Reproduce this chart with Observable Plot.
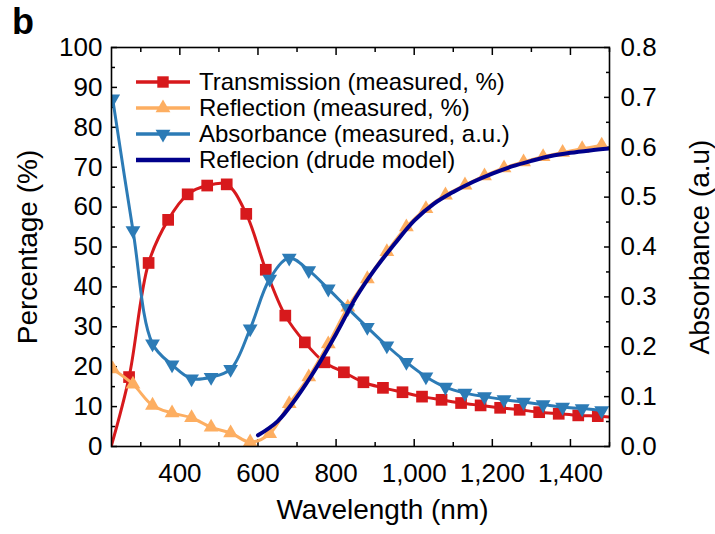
<!DOCTYPE html>
<html><head><meta charset="utf-8">
<script src="https://cdn.jsdelivr.net/npm/d3@7"></script>
<script src="https://cdn.jsdelivr.net/npm/@observablehq/plot@0.6"></script>
<style>
html,body{margin:0;padding:0;background:#fff;}
body{font-family:"Liberation Sans",Arial,Helvetica,sans-serif;color:#000;}
#wrap{position:relative;width:715px;height:534px;overflow:hidden;}
#panel{position:absolute;left:12px;top:4px;font-weight:bold;font-size:36px;line-height:36px;}
.lg{position:absolute;left:134px;height:26px;display:flex;align-items:center;font-size:24px;white-space:nowrap;}
.lg svg{margin-right:7px;}
</style></head><body>
<div id="wrap"><div id="panel">b</div></div>
<script>
// ---- data ----
const transWl  = [225, 270, 320, 370, 420, 470, 520, 570, 620, 670, 720, 770, 820, 870, 920, 970, 1020, 1070, 1120, 1170, 1220, 1270, 1320, 1370, 1420, 1470, 1500];
const transPct = [0.3, 17.4, 46.0, 56.8, 63.2, 65.4, 65.7, 58.3, 44.3, 32.8, 26.1, 21.1, 18.6, 16.1, 14.7, 13.6, 12.5, 11.7, 10.9, 10.3, 9.7, 9.2, 8.6, 8.2, 7.8, 7.6, 7.4];

const reflWl  = [228, 280, 330, 380, 430, 480, 530, 580, 630, 680, 730, 780, 830, 880, 930, 980, 1030, 1080, 1130, 1180, 1230, 1280, 1330, 1380, 1430, 1480];
const reflPct = [19.4, 15.6, 10.3, 8.4, 7.2, 4.8, 3.4, 1.1, 3.2, 10.7, 17.4, 25.7, 34.9, 42.0, 48.8, 55.0, 59.6, 63.0, 65.5, 67.8, 69.8, 71.3, 72.6, 73.7, 74.6, 75.5];

const absWl = [228, 280, 330, 380, 430, 480, 530, 580, 630, 680, 730, 780, 830, 880, 930, 980, 1030, 1080, 1130, 1180, 1230, 1280, 1330, 1380, 1430, 1480];
const absAu = [0.697, 0.433, 0.206, 0.164, 0.136, 0.139, 0.155, 0.236, 0.336, 0.378, 0.353, 0.316, 0.277, 0.239, 0.202, 0.169, 0.140, 0.119, 0.107, 0.100, 0.094, 0.089, 0.084, 0.079, 0.076, 0.072];

const drudeWl  = [600, 650, 700, 750, 800, 850, 900, 950, 1000, 1050, 1100, 1150, 1200, 1250, 1300, 1350, 1400, 1450, 1500];
const drudePct = [2.8, 6.3, 12.4, 19.8, 28.2, 37.2, 44.5, 50.8, 56.6, 60.8, 63.8, 66.3, 68.4, 70.2, 71.6, 72.8, 73.6, 74.2, 74.7];

const seriesNames = ["Transmission (measured, %)", "Reflection (measured, %)", "Absorbance (measured, a.u.)", "Reflecion (drude model)"];
const seriesColors = ["#d7191c", "#fdae61", "#2c7bb6", "#00008b"];

const xLabelTicks = [400, 600, 800, 1000, 1200, 1400];
const xMinorTicks = [300, 500, 700, 900, 1100, 1300, 1500];
const yLeftTicks = [0, 10, 20, 30, 40, 50, 60, 70, 80, 90, 100];
const yLeftMinor = [5, 15, 25, 35, 45, 55, 65, 75, 85, 95];
const yRightTicks = [0, 0.1, 0.2, 0.3, 0.4, 0.5, 0.6, 0.7, 0.8];
const yRightMinor = [0.05, 0.15, 0.25, 0.35, 0.45, 0.55, 0.65, 0.75];
const absMax = 0.8; // right axis top corresponds to 100 %

// ---- build tables ----
const T = transWl.map((w, i) => ({w, v: transPct[i]}));
const R = reflWl.map((w, i) => ({w, v: reflPct[i]}));
const A = absWl.map((w, i) => ({w, v: absAu[i] * 100 / absMax}));
const D = drudeWl.map((w, i) => ({w, v: drudePct[i]}));
const au = v => v * 100 / absMax;

const blank = () => "";
const font = "Liberation Sans, Arial, Helvetica, sans-serif";

const chart = Plot.plot({
  width: 715, height: 534,
  marginLeft: 111, marginRight: 106, marginTop: 47, marginBottom: 88,
  x: {domain: [225, 1500]},
  y: {domain: [0, 100]},
  style: {fontFamily: font, fontSize: "26px", color: "#000", background: "transparent"},
  marks: [
    // inward tick marks on all four sides
    Plot.axisX(xLabelTicks, {anchor: "bottom", tickSize: -7, tickFormat: blank, label: null, strokeWidth: 1.5}),
    Plot.axisX(xMinorTicks, {anchor: "bottom", tickSize: -4, tickFormat: blank, label: null, strokeWidth: 1.5}),
    Plot.axisX(xLabelTicks, {anchor: "top", tickSize: -7, tickFormat: blank, label: null, strokeWidth: 1.5}),
    Plot.axisX(xMinorTicks, {anchor: "top", tickSize: -4, tickFormat: blank, label: null, strokeWidth: 1.5}),
    Plot.axisY(yLeftTicks, {anchor: "left", tickSize: -6, tickFormat: blank, label: null, strokeWidth: 1.5}),
    Plot.axisY(yLeftMinor, {anchor: "left", tickSize: -4, tickFormat: blank, label: null, strokeWidth: 1.5}),
    Plot.axisY(yRightTicks.map(au), {anchor: "right", tickSize: -6, tickFormat: blank, label: null, strokeWidth: 1.5}),
    Plot.axisY(yRightMinor.map(au), {anchor: "right", tickSize: -4, tickFormat: blank, label: null, strokeWidth: 1.5}),
    // tick labels
    Plot.axisX(xLabelTicks, {anchor: "bottom", tickSize: 0, tickPadding: 17, tickFormat: d3.format(","), label: null, fontSize: 26}),
    Plot.axisY(yLeftTicks, {anchor: "left", tickSize: 0, tickPadding: 9, label: null, fontSize: 26}),
    Plot.axisY(yRightTicks.map(au), {anchor: "right", tickSize: 0, tickPadding: 11, tickFormat: d => (d * absMax / 100).toFixed(1), label: null, fontSize: 26}),
    // axis titles
    Plot.text(["Wavelength (nm)"], {frameAnchor: "bottom", textAnchor: "middle", dy: 72, dx: 22, fontSize: 28, text: d => d}),
    Plot.text(["Percentage (%)"], {frameAnchor: "left", textAnchor: "middle", dx: -83, rotate: -90, fontSize: 28, text: d => d}),
    Plot.text(["Absorbance (a.u)"], {frameAnchor: "right", textAnchor: "middle", dx: 91, rotate: -90, fontSize: 28, text: d => d}),
    // series
    Plot.line(T, {x: "w", y: "v", stroke: seriesColors[0], strokeWidth: 3, curve: "catmull-rom", clip: true}),
    Plot.dot(T.filter((d, i) => i > 0 && i < T.length - 1), {x: "w", y: "v", symbol: "square", r: 6.6, fill: seriesColors[0], stroke: "none", clip: true}),
    Plot.line(R, {x: "w", y: "v", stroke: seriesColors[1], strokeWidth: 3, curve: "catmull-rom", clip: true}),
    Plot.dot(R, {x: "w", y: "v", symbol: "triangle", r: 5.5, fill: seriesColors[1], stroke: "none", clip: true}),
    Plot.line(A, {x: "w", y: "v", stroke: seriesColors[2], strokeWidth: 3, curve: "catmull-rom", clip: true}),
    Plot.dot(A, {x: "w", y: "v", symbol: "triangle", rotate: 180, r: 5.5, fill: seriesColors[2], stroke: "none", clip: true}),
    Plot.line(D, {x: "w", y: "v", stroke: seriesColors[3], strokeWidth: 4, curve: "catmull-rom", clip: true}),
    Plot.frame({stroke: "#000", strokeWidth: 1.6})
  ]
});
const wrap = document.getElementById("wrap");
wrap.insertBefore(chart, wrap.firstChild);

// legend (HTML overlay built from the series arrays)
const symbols = [d3.symbolSquare, d3.symbolTriangle, d3.symbolTriangle, null];
const sizes = [130, 95, 95, 0];
const rot = [0, 0, 180, 0];
seriesNames.forEach((name, i) => {
  const row = document.createElement("div");
  row.className = "lg";
  row.style.top = (69 + i * 26) + "px";
  const svg = d3.create("svg").attr("width", 58).attr("height", 20);
  svg.append("line").attr("x1", 2).attr("x2", 56).attr("y1", 10).attr("y2", 10)
    .attr("stroke", seriesColors[i]).attr("stroke-width", i === 3 ? 4.5 : 3.5);
  if (symbols[i]) {
    svg.append("path").attr("d", d3.symbol(symbols[i], sizes[i])())
      .attr("transform", `translate(29,10) rotate(${rot[i]})`).attr("fill", seriesColors[i]);
  }
  row.appendChild(svg.node());
  const span = document.createElement("span");
  span.textContent = name;
  row.appendChild(span);
  wrap.appendChild(row);
});
</script>
</body></html>
